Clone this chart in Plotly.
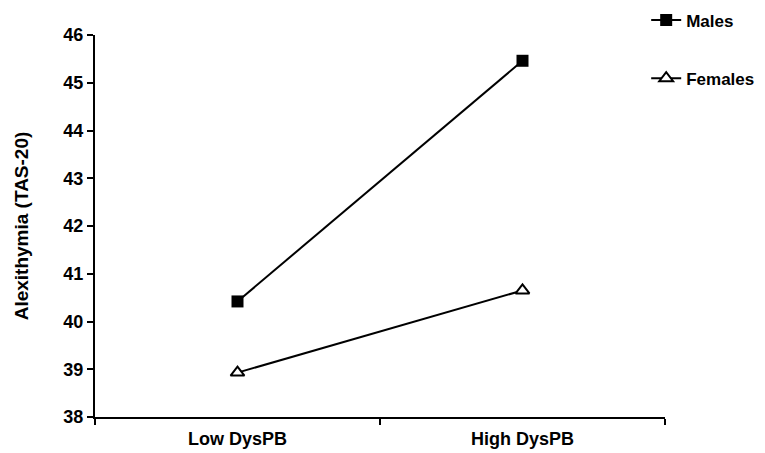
import plotly.graph_objects as go

categories = ["Low DysPB", "High DysPB"]
males = [40.42, 45.46]
females = [38.93, 40.65]
y_ticks = [38, 39, 40, 41, 42, 43, 44, 45, 46]

font_family = "Liberation Sans, Arial, sans-serif"

fig = go.Figure()
fig.add_trace(go.Scatter(
    x=categories, y=males, name="<b>Males</b>", mode="lines+markers",
    line=dict(color="black", width=2),
    marker=dict(symbol="square", size=12, color="black"),
    legendgroup="m"))
fig.add_trace(go.Scatter(
    x=categories, y=females, name="<b>Females</b>", mode="lines+markers",
    line=dict(color="black", width=2),
    marker=dict(symbol="triangle-up", size=12, color="white",
                line=dict(color="black", width=2)),
    legendgroup="f"))

# page is offset by the 8px body margin; plot area target (page px): x 95-665, y 35-417
fig.update_layout(
    width=765, height=453,
    margin=dict(l=87, r=108, t=27, b=44, autoexpand=False),
    plot_bgcolor="white", paper_bgcolor="white",
    font=dict(family=font_family, color="black"),
    showlegend=True,
    legend=dict(x=0.967, y=1.085, xanchor="left", yanchor="top",
                font=dict(size=17, family=font_family, color="black"),
                tracegroupgap=33, bgcolor="rgba(0,0,0,0)"),
    xaxis=dict(type="category", range=[-0.5, 1.5], showline=True,
               linecolor="black", linewidth=2, ticks="outside",
               tickson="boundaries", ticklen=6, tickwidth=2,
               tickcolor="black", showgrid=False, zeroline=False,
               tickvals=categories, ticklabelstandoff=4,
               ticktext=["<b>" + c + "</b>" for c in categories],
               tickfont=dict(size=18, family=font_family, color="black")),
    yaxis=dict(range=[38, 46], tickvals=y_ticks,
               ticktext=[f"<b>{v}</b>" for v in y_ticks],
               showline=True, linecolor="black", linewidth=2,
               ticks="outside", ticklen=6, tickwidth=2, tickcolor="black",
               showgrid=False, zeroline=False,
               title=dict(text="<b>Alexithymia (TAS-20)</b>",
                          font=dict(size=19, family=font_family, color="black"),
                          standoff=30),
               tickfont=dict(size=18, family=font_family, color="black")),
)
fig.write_html("out.html")
